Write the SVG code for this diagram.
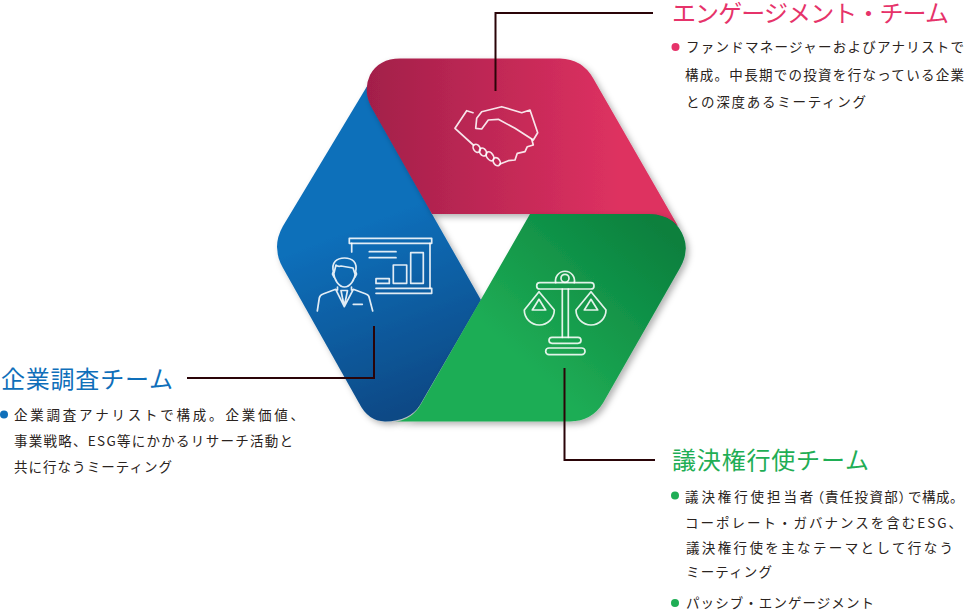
<svg xmlns="http://www.w3.org/2000/svg" width="964" height="611" viewBox="0 0 964 611">
<style>
text{font-family:"Noto Sans CJK JP","Noto Sans",sans-serif;font-weight:400}
.b{font-size:13.500px;fill:#2a2320}
.t{font-size:24px;font-weight:400}
.p{font-feature-settings:"palt"}
.i{fill:none;stroke:#fff;stroke-width:1.700;stroke-linejoin:round;stroke-linecap:round;opacity:.88}
.c{fill:none;stroke:#2a0408;stroke-width:2}
</style>
<defs>
<linearGradient id="gr" gradientUnits="userSpaceOnUse" x1="368" y1="0" x2="620" y2="0"><stop offset="0" stop-color="#a31f4a"/><stop offset="1" stop-color="#de3161"/></linearGradient>
<linearGradient id="gb" gradientUnits="userSpaceOnUse" x1="350" y1="230" x2="420" y2="410"><stop offset="0" stop-color="#0f6fba"/><stop offset="1" stop-color="#0a4884"/></linearGradient>
<linearGradient id="gg" gradientUnits="userSpaceOnUse" x1="650" y1="220" x2="520" y2="360"><stop offset="0" stop-color="#07803e"/><stop offset="1" stop-color="#1fad55"/></linearGradient>
<filter id="s" x="-15%" y="-15%" width="130%" height="130%"><feDropShadow dx="3" dy="3" stdDeviation="3" flood-color="#000" flood-opacity=".3"/></filter>
</defs>
<g id="hexagon">
<path id="blue-shape" filter="url(#s)" fill="url(#gb)" d="M372 78 L432 214 L481 300 L420 405 Q410 421 385 421.500 Q368 421 359 403 L283 268 Q271 247 283 226 L372 78Z"/>
<path id="red-shape" filter="url(#s)" fill="url(#gr)" d="M400 58.500 L560 58.500 Q582 59 593 78 L678 226 L650 214 L432 214 L373 110 Q362 92 370 75 Q379 58.500 400 58.500Z"/>
<path id="green-shape" filter="url(#s)" fill="url(#gg)" d="M530 214 L650 214 Q676 215 684 238 Q689 252 680 268 L603 403 Q592 421 570 421.500 L395 421.500 Q412 420 421 404Z"/>
</g>
<g id="connectors">
<path class="c" d="M495.500 91V13H653"/>
<path class="c" d="M374 326V378H187"/>
<path class="c" d="M564.500 368V460H655"/>
</g>
<g id="engagement-team">
<path class="i" d="M473 112.700L466.700 110.700L455 128.300L473.300 145M500 164L508.300 160.700L515 160L517.300 153.300L525 151.700L527.300 146.700L533.300 145L531.700 139.300"/>
<path class="i" d="M537.700 132.700L530 110L521.700 112.700L501.700 106.700L481.700 111.700L476.700 118.300L475.700 128.300L481.700 129L488.300 120L498.300 119.300L515 128.300L533.300 140Z"/>
<ellipse class="i" cx="476.700" cy="148.300" rx="3.200" ry="4.300" transform="rotate(-35 476.700 148.300)"/>
<ellipse class="i" cx="483" cy="152" rx="3.200" ry="4.300" transform="rotate(-35 483 152)"/>
<ellipse class="i" cx="490" cy="156.300" rx="3.200" ry="5" transform="rotate(-35 490 156.300)"/>
<ellipse class="i" cx="496.700" cy="161.700" rx="3.200" ry="4.300" transform="rotate(-35 496.700 161.700)"/>
<text class="t" x="672" y="22" fill="#e6336a" textLength="277" lengthAdjust="spacing">エンゲージメント・チーム</text>
<circle cx="675.500" cy="47" r="4" fill="#e6336a"/>
<text class="b" x="686" y="52" textLength="278" lengthAdjust="spacing">ファンドマネージャーおよびアナリストで</text>
<text class="b" x="685" y="80" textLength="279" lengthAdjust="spacing">構成。中長期での投資を行なっている企業</text>
<text class="b" x="686" y="107" textLength="180" lengthAdjust="spacing">との深度あるミーティング</text>
</g>
<g id="research-team">
<rect class="i" x="349.300" y="238.300" width="82.400" height="5"/>
<path class="i" d="M351.700 243.300V252M430 243.300V288.300M369.300 251.700H396M369.300 257.700H396"/>
<rect class="i" x="376" y="278.700" width="13.300" height="4.700"/>
<rect class="i" x="393.300" y="265" width="13.400" height="18.300"/>
<rect class="i" x="410.700" y="252.700" width="12.600" height="30.600"/>
<path class="i" d="M376 288.300H431.700V293.300H376"/>
<path class="i" d="M333.500 272C331 262 337 258 344.500 258C352 258 358 262 355.500 272C355 280 350 287 344.500 287C339 287 334 280 333.500 272ZM334 273L336 265Q338 267 341 266L353 268L355 274M333.500 271L332.500 274L334 277M355.500 271L356.500 274L355 277"/>
<path class="i" d="M317.300 311L319.300 298Q320 295 323 294L335.700 289.300L344.300 306.700L353.300 289.300L366 294Q369 295 369.300 298L372.700 311M337.500 287V290M351.500 287V290M341 290.500H347.500L346 298L344.300 306L342.500 298Z"/>
<path class="i" d="M353.300 304.300H362.300"/>
<text class="t" x="1" y="388" fill="#0f6fba" textLength="172" lengthAdjust="spacing">企業調査チーム</text>
<circle cx="4" cy="414.500" r="4" fill="#0f6fba"/>
<text class="b" x="14" y="420" textLength="290" lengthAdjust="spacing">企業調査アナリストで構成。企業価値、</text>
<text class="b" x="14" y="446" textLength="279" lengthAdjust="spacing">事業戦略、ESG等にかかるリサーチ活動と</text>
<text class="b" x="14" y="472" textLength="158" lengthAdjust="spacing">共に行なうミーティング</text>
</g>
<g id="voting-team">
<path class="i" d="M555.700 282.700A9.500 9.500 0 1 1 574.300 282.700"/>
<circle class="i" cx="565" cy="278.300" r="4"/>
<rect class="i" x="536.700" y="282.700" width="57.300" height="6.300" rx="3.100"/>
<path class="i" d="M562.300 289V337.300M568.300 289V337.300"/>
<rect class="i" x="549" y="337.300" width="32" height="6" rx="3"/>
<rect class="i" x="545.700" y="348" width="39.300" height="6.700" rx="3.300"/>
<path class="i" d="M524.300 310L539 291.700L554.300 310A15 15 0 0 1 524.300 310Z"/>
<path class="i" d="M539 299.300L532.300 310H545.700Z"/>
<path class="i" d="M576 310L591 291.700L606 310A15 15 0 0 1 576 310Z"/>
<path class="i" d="M591 299.300L584.300 310H597.700Z"/>
<text class="t" x="672" y="469" fill="#1fae55" textLength="197" lengthAdjust="spacing">議決権行使チーム</text>
<circle cx="675" cy="495.500" r="4" fill="#1fae55"/>
<text class="b" x="685" y="502"><tspan letter-spacing="2.900">議決権行使担当者</tspan><tspan x="817" class="p">（</tspan><tspan x="825" letter-spacing="1.300">責任投資部</tspan><tspan x="899" class="p">）</tspan><tspan x="908" letter-spacing=".5">で構成。</tspan></text>
<text class="b" x="685" y="528" textLength="277" lengthAdjust="spacing">コーポレート・ガバナンスを含むESG、</text>
<text class="b" x="686" y="553" textLength="267" lengthAdjust="spacing">議決権行使を主なテーマとして行なう</text>
<text class="b" x="686" y="577" textLength="86" lengthAdjust="spacing">ミーティング</text>
<circle cx="675" cy="603" r="4" fill="#1fae55"/>
<text class="b" x="686" y="608" textLength="188" lengthAdjust="spacing">パッシブ・エンゲージメント</text>
</g>
</svg>
